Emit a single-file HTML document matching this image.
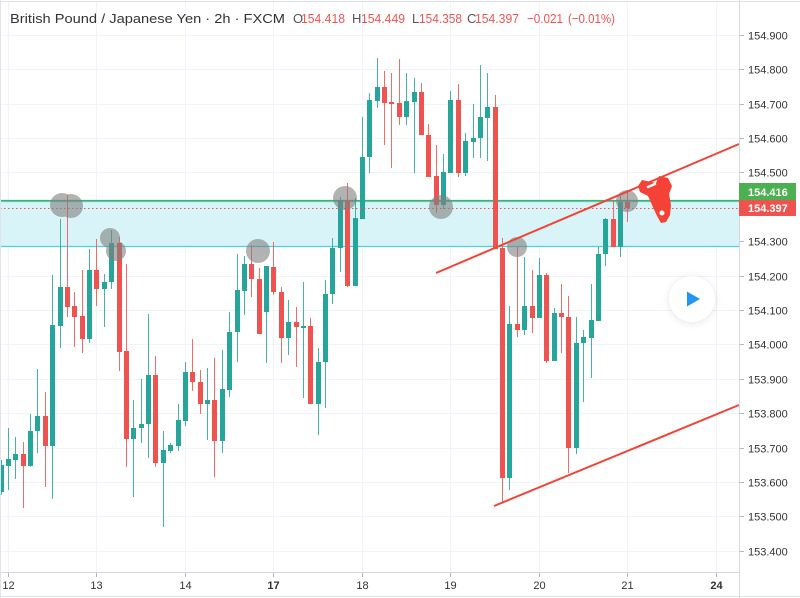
<!DOCTYPE html>
<html><head><meta charset="utf-8"><style>
html,body{margin:0;padding:0;background:#fff;}
#wrap{position:relative;width:800px;height:598px;overflow:hidden;background:#fff;}
svg{position:absolute;left:0;top:0;}
#play{position:absolute;left:669px;top:276px;width:46px;height:46px;border-radius:50%;background:#fff;box-shadow:0 1px 8px rgba(0,0,0,0.11);}
</style></head><body><div id="wrap">
<svg width="800" height="598" viewBox="0 0 800 598" xmlns="http://www.w3.org/2000/svg" font-family="'Liberation Sans', sans-serif">
<!-- grid -->
<g stroke="#f0f3fa" stroke-width="1">
<path d="M0 35.5H739M0 69.5H739M0 104.5H739M0 138.5H739M0 172.5H739M0 207.5H739M0 241.5H739M0 276.5H739M0 310.5H739M0 344.5H739M0 379.5H739M0 413.5H739M0 448.5H739M0 482.5H739M0 516.5H739M0 551.5H739"/>
<path d="M8.5 2V572M96.5 2V572M185.5 2V572M273.5 2V572M362.5 2V572M450.5 2V572M539.5 2V572M627.5 2V572M716.5 2V572"/>
</g>
<!-- band -->
<rect x="0" y="201" width="739" height="45.5" fill="#d9f4f8"/>
<path d="M0 201.5H739M0 246.5H739" stroke="#4dd0e1" stroke-width="1.2"/>
<path d="M0 200.5H739" stroke="#4caf50" stroke-width="1.2"/>
<!-- candles -->
<g stroke="#26a69a" stroke-width="1" fill="none" opacity="0.85">
<path d="M1.5 460V495M8.5 428V490M15.5 437V479M30.5 414V467M37.5 369V453M52.5 275V499M60.5 219V348M89.5 249V343M104.5 274V327M111.5 230V289M133.5 400V497M141.5 379V443M148.5 314V458M163.5 431V527M170.5 443V453M178.5 404V451M185.5 362V426M207.5 368V440M222.5 350V453M229.5 312V397M237.5 254V362M244.5 256V315M266.5 266V363M288.5 300V355M303.5 282V398M318.5 348V435M325.5 280V408M332.5 238V304M340.5 197V272M355.5 198V286M362.5 117V219M369.5 93V173M377.5 58V108M406.5 73V125M414.5 78V173M443.5 154V209M450.5 91V173M465.5 133V176M473.5 104V158M480.5 65V158M487.5 73V161M509.5 306V490M524.5 257V335M539.5 258V318M554.5 308V361M576.5 317V454M583.5 330V402M591.5 284V378M598.5 247V321M605.5 218V266M620.5 196V257"/>
</g>
<g fill="#26a69a">
<path d="M-1 465h5v27h-5zM6 459h5v7h-5zM13 454h5v6h-5zM28 431h5v35h-5zM35 416h5v15h-5zM50 325h5v121h-5zM58 287h5v39h-5zM87 270h5v69h-5zM102 282h5v7h-5zM109 243h5v39h-5zM131 428h5v11h-5zM139 424h5v4h-5zM146 375h5v49h-5zM161 450h5v13h-5zM168 445h5v6h-5zM176 420h5v26h-5zM183 372h5v49h-5zM205 400h5v4h-5zM220 389h5v52h-5zM227 332h5v58h-5zM235 290h5v42h-5zM242 264h5v27h-5zM264 266h5v46h-5zM286 322h5v16h-5zM301 326h5v2h-5zM316 362h5v42h-5zM323 294h5v68h-5zM330 248h5v46h-5zM338 200h5v48h-5zM353 218h5v68h-5zM360 157h5v62h-5zM367 100h5v57h-5zM375 87h5v14h-5zM404 101h5v16h-5zM412 92h5v10h-5zM441 172h5v33h-5zM448 100h5v73h-5zM463 141h5v32h-5zM471 138h5v4h-5zM478 117h5v21h-5zM485 107h5v11h-5zM507 324h5v154h-5zM522 306h5v24h-5zM537 275h5v43h-5zM552 313h5v48h-5zM574 343h5v105h-5zM581 337h5v6h-5zM589 320h5v18h-5zM596 254h5v67h-5zM603 219h5v35h-5zM618 202h5v45h-5z"/>
</g>
<g stroke="#ef5350" stroke-width="1" fill="none" opacity="0.85">
<path d="M23.5 442V508M45.5 392V487M67.5 195V317M74.5 292V347M82.5 270V353M96.5 239V306M119.5 237V371M126.5 264V467M155.5 356V467M192.5 339V391M200.5 370V414M214.5 358V477M251.5 245V297M259.5 268V334M273.5 242V295M281.5 287V363M296.5 307V367M310.5 318V404M347.5 183V287M384.5 71V145M391.5 73V168M399.5 59V125M421.5 83V135M428.5 124V177M436.5 145V213M458.5 84V177M495.5 95V249M502.5 238V502M517.5 247V337M532.5 270V333M546.5 273V363M561.5 284V353M568.5 296V473M613.5 200V247M627.5 192V222"/>
</g>
<g fill="#ef5350">
<path d="M21 454h5v12h-5zM43 416h5v30h-5zM65 287h5v20h-5zM72 306h5v11h-5zM80 316h5v23h-5zM94 270h5v19h-5zM117 243h5v109h-5zM124 351h5v88h-5zM153 375h5v88h-5zM190 372h5v10h-5zM198 382h5v22h-5zM212 400h5v41h-5zM249 264h5v15h-5zM257 279h5v55h-5zM271 267h5v25h-5zM279 292h5v46h-5zM294 322h5v5h-5zM308 326h5v78h-5zM345 200h5v86h-5zM382 87h5v16h-5zM389 102h5v2h-5zM397 103h5v14h-5zM419 92h5v43h-5zM426 135h5v42h-5zM434 176h5v29h-5zM456 100h5v73h-5zM493 107h5v142h-5zM500 248h5v230h-5zM515 324h5v6h-5zM530 306h5v12h-5zM544 275h5v86h-5zM559 313h5v4h-5zM566 317h5v131h-5zM611 219h5v28h-5zM625 202h5v6h-5z"/>
</g>
<!-- current price dotted line -->
<path d="M0 208.5H739" stroke="#ef5350" stroke-width="1" stroke-dasharray="1.5 2.5"/>
<!-- gray markers -->
<g fill="#808080" opacity="0.6">
<circle cx="62" cy="205" r="12"/><circle cx="71" cy="206" r="12"/>
<circle cx="110" cy="238" r="10"/><circle cx="116" cy="251" r="10"/>
<circle cx="258" cy="251" r="12"/>
<circle cx="345" cy="198" r="12"/>
<circle cx="441" cy="207" r="12"/>
<circle cx="517" cy="247" r="10"/>
<circle cx="627" cy="201" r="11"/>
</g>
<!-- trendlines -->
<path d="M436 273L739 144" stroke="#f44336" stroke-width="2" fill="none"/>
<path d="M494 506L739 405" stroke="#f44336" stroke-width="2" fill="none"/>
<!-- rocket -->
<path d="M638 186L642 180L656 183L659 176L668 178L672 186L669 194L671 205L670 215L666 222L661 223L657 216L652 205L648 196L640 192Z" fill="#f44336"/>
<circle cx="662" cy="213" r="2.5" fill="#fff"/>
<path d="M648 187L655 184" stroke="#fff" stroke-width="2.5" stroke-linecap="round"/>
<!-- axes -->
<path d="M739.5 0V598M0 572.5H739" stroke="#d6d8de" stroke-width="1"/>
<path d="M0.5 0V598M0 1.5H800M0 596.5H800" stroke="#e0e3eb" stroke-width="1"/>
<g stroke="#b2b5be" stroke-width="1">
<path d="M740 35.5h4M740 69.5h4M740 104.5h4M740 138.5h4M740 172.5h4M740 241.5h4M740 276.5h4M740 310.5h4M740 344.5h4M740 379.5h4M740 413.5h4M740 448.5h4M740 482.5h4M740 516.5h4M740 551.5h4"/>
<path d="M8.5 573v4M96.5 573v4M185.5 573v4M273.5 573v4M362.5 573v4M450.5 573v4M539.5 573v4M627.5 573v4M716.5 573v4"/>
</g>
<g font-size="11" fill="#333">
<text x="748" y="39.5">154.900</text>
<text x="748" y="73.5">154.800</text>
<text x="748" y="108.5">154.700</text>
<text x="748" y="142.5">154.600</text>
<text x="748" y="176.5">154.500</text>
<text x="748" y="245.5">154.300</text>
<text x="748" y="280.5">154.200</text>
<text x="748" y="314.5">154.100</text>
<text x="748" y="348.5">154.000</text>
<text x="748" y="383.5">153.900</text>
<text x="748" y="417.5">153.800</text>
<text x="748" y="452.5">153.700</text>
<text x="748" y="486.5">153.600</text>
<text x="748" y="520.5">153.500</text>
<text x="748" y="555.5">153.400</text>
</g>
<!-- price labels -->
<rect x="739" y="183" width="57" height="17" fill="#4caf50"/>
<rect x="739" y="200" width="57" height="16" fill="#ef5350"/>
<text x="748" y="196" font-size="11" fill="#fff" font-weight="bold">154.416</text>
<text x="748" y="212" font-size="11" fill="#fff" font-weight="bold">154.397</text>
<!-- time labels -->
<g font-size="11" fill="#333" text-anchor="middle">
<text x="8.5" y="589">12</text>
<text x="96.5" y="589">13</text>
<text x="185.5" y="589">14</text>
<text x="273.5" y="589" font-weight="bold">17</text>
<text x="362.5" y="589">18</text>
<text x="450.5" y="589">19</text>
<text x="539.5" y="589">20</text>
<text x="627.5" y="589">21</text>
<text x="716.5" y="589" font-weight="bold">24</text>
</g>
<!-- header -->
<g font-size="13">
<text x="10" y="23" fill="#333" textLength="275" lengthAdjust="spacingAndGlyphs">British Pound / Japanese Yen · 2h · FXCM</text>
<text x="293" y="23" fill="#555">O</text>
<text x="301" y="23" fill="#ef5350" textLength="44" lengthAdjust="spacingAndGlyphs">154.418</text>
<text x="352" y="23" fill="#555">H</text>
<text x="361" y="23" fill="#ef5350" textLength="44" lengthAdjust="spacingAndGlyphs">154.449</text>
<text x="412" y="23" fill="#555">L</text>
<text x="419" y="23" fill="#ef5350" textLength="43" lengthAdjust="spacingAndGlyphs">154.358</text>
<text x="467" y="23" fill="#555">C</text>
<text x="475" y="23" fill="#ef5350" textLength="44" lengthAdjust="spacingAndGlyphs">154.397</text>
<text x="527" y="23" fill="#ef5350" textLength="36" lengthAdjust="spacingAndGlyphs">−0.021</text>
<text x="568" y="23" fill="#ef5350" textLength="47" lengthAdjust="spacingAndGlyphs">(−0.01%)</text>
</g>
</svg>
<div id="play"><svg width="46" height="46" viewBox="0 0 46 46" style="position:absolute;left:0;top:0"><path d="M18 15.5L31 23L18 30.5Z" fill="#2196f3"/></svg></div>
</div></body></html>
